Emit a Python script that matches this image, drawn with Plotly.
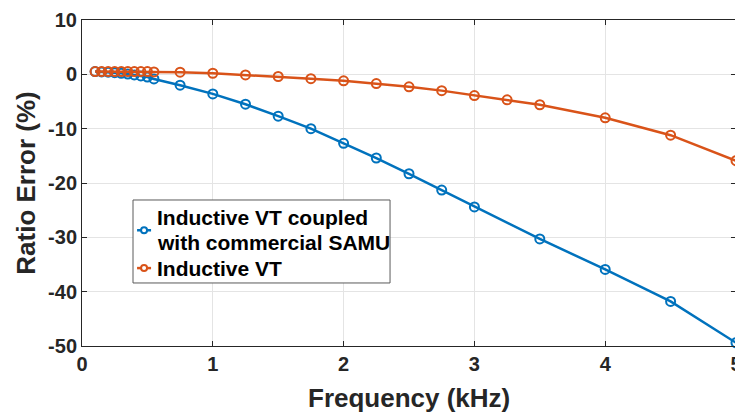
import plotly.graph_objects as go

freq_blue = [0.1, 0.15, 0.2, 0.25, 0.3, 0.35, 0.4, 0.45, 0.5, 0.55, 0.75, 1.0, 1.25, 1.5, 1.75,
             2.0, 2.25, 2.5, 2.75, 3.0, 3.5, 4.0, 4.5, 5.0]
err_blue = [0.5, 0.45, 0.4, 0.3, 0.2, 0.05, -0.1, -0.3, -0.5, -0.85, -2.0, -3.6, -5.5, -7.7, -10.0,
            -12.7, -15.4, -18.3, -21.3, -24.4, -30.3, -35.9, -41.8, -49.4]

freq_orange = [0.1, 0.15, 0.2, 0.25, 0.3, 0.35, 0.4, 0.45, 0.5, 0.55, 0.75, 1.0, 1.25, 1.5, 1.75,
               2.0, 2.25, 2.5, 2.75, 3.0, 3.25, 3.5, 4.0, 4.5, 5.0]
err_orange = [0.5, 0.5, 0.5, 0.5, 0.5, 0.5, 0.5, 0.5, 0.5, 0.45, 0.4, 0.2, -0.1, -0.4, -0.8,
              -1.2, -1.7, -2.3, -3.0, -3.9, -4.7, -5.6, -8.0, -11.2, -15.9]

legend_blue = ["Inductive VT coupled", "with commercial SAMU"]
legend_orange = ["Inductive VT"]

x_ticks = [0, 1, 2, 3, 4, 5]
y_ticks = [10, 0, -10, -20, -30, -40, -50]

BLUE = "#0072BD"
ORANGE = "#D95319"
FONT = "Liberation Sans, Arial, sans-serif"
TXT = "#262626"

fig = go.Figure()
fig.add_trace(go.Scatter(
    x=freq_blue, y=err_blue, mode="lines+markers", name=" ".join(legend_blue),
    line=dict(color=BLUE, width=2.5),
    marker=dict(symbol="circle-open", size=9, color=BLUE, line=dict(width=2)),
    cliponaxis=False, showlegend=False,
))
fig.add_trace(go.Scatter(
    x=freq_orange, y=err_orange, mode="lines+markers", name=legend_orange[0],
    line=dict(color=ORANGE, width=2.5),
    marker=dict(symbol="circle-open", size=9, color=ORANGE, line=dict(width=2)),
    cliponaxis=False, showlegend=False,
))

axis_common = dict(
    showline=True, linecolor=TXT, linewidth=1, mirror="ticks",
    ticks="inside", ticklen=5, tickcolor=TXT,
    showgrid=True, gridcolor="#e4e4e4", gridwidth=1,
    zeroline=False, automargin=False, ticklabeloverflow="allow",
    tickfont=dict(family=FONT, size=20, color=TXT, weight="bold"),
)

# ---- manual legend box (paper coordinates) ----
LX0, LX1, LYT, LYB = 0.0780, 0.4710, 0.4479, 0.1933
shapes = [dict(type="rect", xref="paper", yref="paper", x0=LX0, x1=LX1, y0=LYB, y1=LYT,
               line=dict(color="#5a5a5a", width=1), fillcolor="white", layer="above")]
annotations = []
entries = [(legend_blue, BLUE, [0.393, 0.316], 0.355), (legend_orange, ORANGE, [0.239], 0.239)]
for lines, col, ys, ysample in entries:
    shapes.append(dict(type="line", xref="paper", yref="paper", x0=0.0842, x1=0.1056,
                       y0=ysample, y1=ysample, line=dict(color=col, width=2.5), layer="above"))
    shapes.append(dict(type="circle", xref="paper", yref="paper",
                       x0=0.0949 - 0.0046, x1=0.0949 + 0.0046,
                       y0=ysample - 0.0092, y1=ysample + 0.0092,
                       line=dict(color=col, width=2), fillcolor="white", layer="above"))
    for txt, yy in zip(lines, ys):
        annotations.append(dict(text="<b>%s</b>" % txt, xref="paper", yref="paper",
                                x=0.1113, y=yy, xanchor="left", yanchor="middle",
                                showarrow=False,
                                font=dict(family=FONT, size=21, color="black")))

# x-axis title as annotation for exact placement
annotations.append(dict(text="<b>Frequency (kHz)</b>", xref="paper", yref="paper",
                        x=0.5, y=0, xanchor="center", yanchor="top", yshift=-35,
                        showarrow=False, font=dict(family=FONT, size=26, color=TXT)))

fig.update_layout(
    width=735, height=407,
    margin=dict(l=74, r=7, t=12, b=69),
    paper_bgcolor="white", plot_bgcolor="white",
    font=dict(family=FONT, color=TXT),
    xaxis=dict(range=[0, 5], tickvals=x_ticks, ticktext=[str(v) for v in x_ticks],
               **axis_common),
    yaxis=dict(range=[-50, 10], tickvals=y_ticks, ticktext=[str(v) for v in y_ticks],
               title=dict(text="<b>Ratio Error (%)</b>", font=dict(size=26, family=FONT, color=TXT),
                          standoff=4),
               **axis_common),
    shapes=shapes,
    annotations=annotations,
    showlegend=False,
)

fig.write_html("out.html")
